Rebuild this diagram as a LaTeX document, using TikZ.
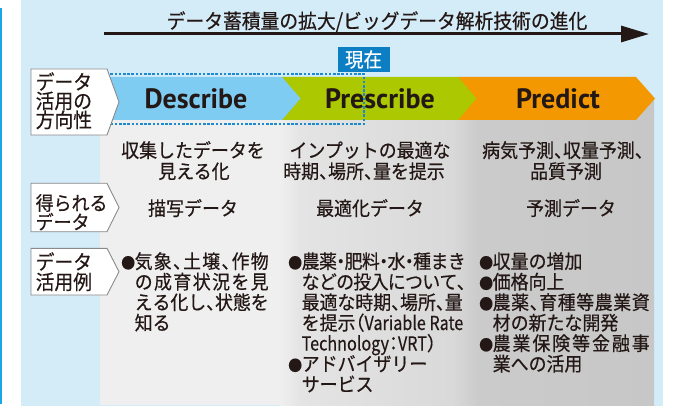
\documentclass[tikz,border=0pt]{standalone}
\usepackage{fontspec}
\usepackage{graphicx}
\usetikzlibrary{arrows.meta}
\setmainfont{Noto Sans CJK JP}[RawFeature=+halt, FakeBold=0.45, FakeStretch=0.93]
\newfontfamily\chevfont{PT Sans}
\definecolor{bgblue}{HTML}{D4EBF8}
\definecolor{edgeblue}{HTML}{1BA6E6}
\definecolor{descr}{HTML}{7FCCF3}
\definecolor{prescr}{HTML}{ABC800}
\definecolor{predcol}{HTML}{F39800}
\definecolor{nowblue}{HTML}{0B7EC4}
\definecolor{dotblue}{HTML}{1C8AD2}
\definecolor{txtcol}{HTML}{231815}
\definecolor{boxgray}{HTML}{8A8A8A}
\definecolor{gA}{HTML}{EFEFEF}
\definecolor{gB}{HTML}{E4E4E4}
\definecolor{gC}{HTML}{D9D9D9}
\definecolor{gD}{HTML}{CBCBCB}
\definecolor{gE}{HTML}{C7C7C7}
\newskip\spreadskip \spreadskip=0pt plus 1fil minus 1fil
\ExplSyntaxOn
\NewDocumentCommand\spread{mm}{\hbox to #1{\tl_map_inline:nn{#2}{##1\hskip\spreadskip}\unskip}}
\ExplSyntaxOff
\newcommand\bul{\makebox[13.5pt][l]{\fontsize{15}{15}\selectfont ●}}
\newcommand\narrowlat[1]{\scalebox{0.9}[1]{#1}}
\tikzset{
  txt/.style={inner sep=0pt, text=txtcol, font=\fontsize{19.3}{19.3}\selectfont},
  lab/.style={inner sep=0pt, text=txtcol, font=\fontsize{20.2}{20.2}\selectfont, anchor=base west},
  labsm/.style={lab, font=\fontsize{19.3}{19.3}\selectfont},
  labbox/.style={fill=white, draw=boxgray, line width=0.9pt},
  chevtxt/.style={inner sep=0pt, text=txtcol, font=\chevfont\bfseries\fontsize{28}{28}\selectfont},
}
\begin{document}
\begin{tikzpicture}[x=1pt,y=-1pt]
\useasboundingbox (0,0) rectangle (674,406);
% backgrounds
\fill[white] (0,0) rectangle (674,406);
\fill[bgblue] (21,0) rectangle (663,406);
\fill[edgeblue] (0,8) rectangle (2.3,404);
% gray panel with soft column transitions
\fill[gA] (100,99) rectangle (280.5,405);
\shade[left color=gA, right color=gB] (280,99) rectangle (300.5,405);
\shade[left color=gB, right color=gC] (300,99) rectangle (452.5,405);
\shade[left color=gC, right color=gD] (452,99) rectangle (478.5,405);
\shade[left color=gD, right color=gE] (478,99) rectangle (654,405);
% title and arrow
\node[inner sep=0pt, text=txtcol, font=\fontsize{20.2}{20.2}\selectfont, anchor=base] (title) at (377,28.5) {データ蓄積量の拡大/ビッグデータ解析技術の進化};
\coordinate (arrS) at (104,34);
\coordinate (arrE) at (649,34);
\draw[line width=3pt, txtcol, -{Triangle[length=28pt,width=16pt]}] (arrS) -- (arrE);
% chevrons
\fill[predcol] (458,77) -- (636,77) -- (655,98.5) -- (636,120) -- (458,120) -- cycle;
\fill[prescr] (282,77) -- (458,77) -- (476.5,98.5) -- (458,120) -- (282,120) -- cycle;
\fill[descr] (100,77) -- (282,77) -- (300.5,98.5) -- (282,120) -- (100,120) -- cycle;
\node[chevtxt] (describe) at (196,98.5) {Describe};
\node[chevtxt] (prescribe) at (380,98.5) {Prescribe};
\node[chevtxt] (predict) at (558,98.5) {Predict};
% current marker
\draw[dotblue, line width=1.1pt, dash pattern=on 2.6pt off 1.6pt] (106,74) rectangle (364,124);
\node[fill=nowblue, text=white, minimum width=52pt, minimum height=25pt, inner sep=0pt, font=\fontsize{20}{20}\selectfont] (now) at (363.5,59.5) {現在};
% label boxes
\filldraw[labbox] (31,69) -- (107,69) -- (119,102) -- (107,135) -- (31,135) -- cycle;
\filldraw[labbox] (31,183.3) -- (107,183.3) -- (119,207.5) -- (107,231.7) -- (31,231.7) -- cycle;
\filldraw[labbox] (31,248.3) -- (107,248.3) -- (119,271.7) -- (107,295) -- (31,295) -- cycle;
\node[lab] (l1a) at (35.5,89.5) {データ};
\node[lab] (l1b) at (35.5,108.5) {活用の};
\node[lab] (l1c) at (35.5,127.5) {方向性};
\node[labsm] (l2a) at (35.5,210.3) {得られる};
\node[labsm] (l2b) at (35.5,229.3) {データ};
\node[lab] (l3a) at (35.5,269.5) {データ};
\node[lab] (l3b) at (35.5,289.5) {活用例};
% row 2
\node[txt, anchor=base] (r1c1a) at (193,157.5) {収集したデータを};
\node[txt, anchor=base] (r1c1b) at (194,178.5) {見える化};
\node[txt, anchor=base] (r1c2a) at (370,157.5) {インプットの最適な};
\node[txt, anchor=base] (r1c2b) at (364,178.5) {時期、場所、量を提示};
\node[txt, anchor=base] (r1c3a) at (563,157.5) {病気予測、収量予測、};
\node[txt, anchor=base] (r1c3b) at (566,178.5) {品質予測};
% row 3
\node[txt, anchor=base] (r2c1) at (193,215.5) {描写データ};
\node[txt, anchor=base] (r2c2) at (370,215.5) {最適化データ};
\node[txt, anchor=base] (r2c3) at (571,215.5) {予測データ};
% row 4, column 1
\node[txt, anchor=base west] (c1l1) at (121,268.5) {\bul\spread{134pt}{気象、土壌、作物}};
\node[txt, anchor=base west] (c1l2) at (134.5,289) {\spread{134pt}{の成育状況を見}};
\node[txt, anchor=base west] (c1l3) at (134.5,309.5) {\spread{134pt}{える化し、状態を}};
\node[txt, anchor=base west] (c1l4) at (134.5,330) {知る};
% column 2
\node[txt, anchor=base west] (c2l1) at (288,268.5) {\bul\spread{164pt}{農薬・肥料・水・種まき}};
\node[txt, anchor=base west] (c2l2) at (301.5,289) {\spread{164pt}{などの投入について、}};
\node[txt, anchor=base west] (c2l3) at (301.5,309.5) {\spread{161pt}{最適な時期、場所、量}};
\node[txt, anchor=base west] (c2l4) at (301.5,330) {を提示（\narrowlat{Variable Rate}};
\node[txt, anchor=base west] (c2l5) at (301.5,350.5) {\narrowlat{Technology}：\narrowlat{VRT}）};
\node[txt, anchor=base west] (c2l6) at (288,371) {\bul アドバイザリー};
\node[txt, anchor=base west] (c2l7) at (301.5,391.5) {サービス};
% column 3
\node[txt, anchor=base west] (c3l1) at (479,268.5) {\bul 収量の増加};
\node[txt, anchor=base west] (c3l2) at (479,289) {\bul 価格向上};
\node[txt, anchor=base west] (c3l3) at (479,309.5) {\bul\spread{157pt}{農薬、育種等農業資}};
\node[txt, anchor=base west] (c3l4) at (492.5,330) {材の新たな開発};
\node[txt, anchor=base west] (c3l5) at (479,350.5) {\bul\spread{157pt}{農業保険等金融事}};
\node[txt, anchor=base west] (c3l6) at (492.5,371) {業への活用};
\end{tikzpicture}
\end{document}
